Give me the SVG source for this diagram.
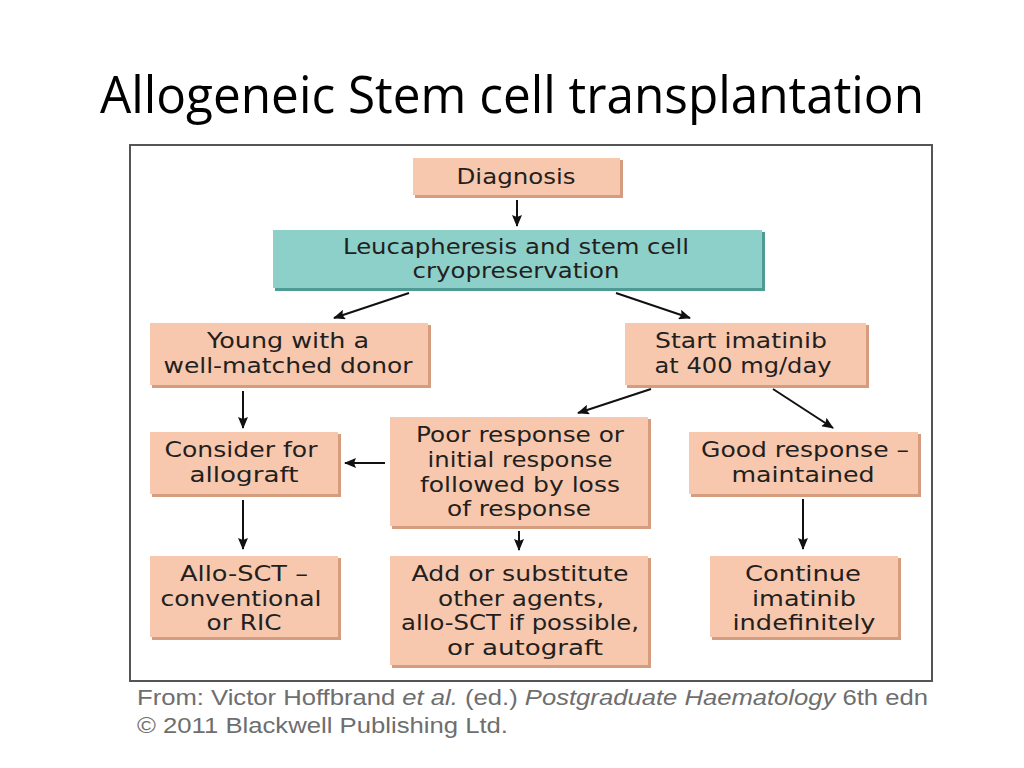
<svg xmlns="http://www.w3.org/2000/svg" width="1024" height="768" viewBox="0 0 1024 768">
<style>
.box{fill:#F7C8AE}
.teal{fill:#8DD0C9}
.sh{fill:#D59C80}
.tsh{fill:#4E9B93}
.t{font-family:"DejaVu Sans","Open Sans",sans-serif;font-size:22px;fill:#231F20;text-anchor:middle}
.c{stroke:#111;stroke-width:2;fill:none;marker-end:url(#ah)}
.foot{font-family:"Liberation Sans",Arial,sans-serif;font-size:22px;fill:#6E6E6E}
</style>
<defs>
<marker id="ah" viewBox="0 0 12 10" refX="11" refY="5" markerWidth="12" markerHeight="10" markerUnits="userSpaceOnUse" orient="auto">
<path d="M0,0 L12,5 L0,10 L2,5 Z" fill="#111"/>
</marker>
</defs>
<rect width="1024" height="768" fill="#fff"/>
<text x="512" y="113" font-family="Open Sans, Liberation Sans, sans-serif" font-size="52" fill="#000" text-anchor="middle" textLength="824" lengthAdjust="spacingAndGlyphs">Allogeneic Stem cell transplantation</text>
<rect x="130" y="145" width="802" height="536" fill="#fff" stroke="#555" stroke-width="2"/>

<g id="diagnosis">
<rect class="sh" x="415" y="160" width="208" height="38"/>
<rect class="box" x="413" y="158" width="207" height="37"/>
<text class="t" x="516" y="184" textLength="119" lengthAdjust="spacingAndGlyphs">Diagnosis</text>
</g>
<g id="leucapheresis">
<rect class="tsh" x="275" y="232" width="490" height="59"/>
<rect class="teal" x="273" y="230" width="489" height="58"/>
<text class="t" x="516" y="254" textLength="346" lengthAdjust="spacingAndGlyphs">Leucapheresis and stem cell</text>
<text class="t" x="516" y="278" textLength="207" lengthAdjust="spacingAndGlyphs">cryopreservation</text>
</g>
<g id="young">
<rect class="sh" x="152" y="325" width="279" height="63"/>
<rect class="box" x="150" y="323" width="278" height="62"/>
<text class="t" x="288" y="348" textLength="162" lengthAdjust="spacingAndGlyphs">Young with a</text>
<text class="t" x="288" y="373" textLength="249" lengthAdjust="spacingAndGlyphs">well-matched donor</text>
</g>
<g id="start">
<rect class="sh" x="627" y="325" width="242" height="63"/>
<rect class="box" x="625" y="323" width="241" height="62"/>
<text class="t" x="741" y="348" textLength="172" lengthAdjust="spacingAndGlyphs">Start imatinib</text>
<text class="t" x="743" y="373" textLength="177" lengthAdjust="spacingAndGlyphs">at 400 mg/day</text>
</g>
<g id="consider">
<rect class="sh" x="152" y="434" width="189" height="63"/>
<rect class="box" x="150" y="432" width="188" height="62"/>
<text class="t" x="241" y="457" textLength="153" lengthAdjust="spacingAndGlyphs">Consider for</text>
<text class="t" x="244" y="482" textLength="109" lengthAdjust="spacingAndGlyphs">allograft</text>
</g>
<g id="poor">
<rect class="sh" x="392" y="419" width="259" height="110"/>
<rect class="box" x="390" y="417" width="258" height="109"/>
<text class="t" x="520" y="442" textLength="208" lengthAdjust="spacingAndGlyphs">Poor response or</text>
<text class="t" x="520" y="467" textLength="185" lengthAdjust="spacingAndGlyphs">initial response</text>
<text class="t" x="520" y="492" textLength="200" lengthAdjust="spacingAndGlyphs">followed by loss</text>
<text class="t" x="519" y="516" textLength="144" lengthAdjust="spacingAndGlyphs">of response</text>
</g>
<g id="good">
<rect class="sh" x="691" y="434" width="230" height="63"/>
<rect class="box" x="689" y="432" width="229" height="62"/>
<text class="t" x="805" y="457" textLength="208" lengthAdjust="spacingAndGlyphs">Good response –</text>
<text class="t" x="803" y="482" textLength="143" lengthAdjust="spacingAndGlyphs">maintained</text>
</g>
<g id="allo">
<rect class="sh" x="152" y="558" width="189" height="82"/>
<rect class="box" x="150" y="556" width="188" height="81"/>
<text class="t" x="244" y="581" textLength="128" lengthAdjust="spacingAndGlyphs">Allo-SCT –</text>
<text class="t" x="241" y="606" textLength="161" lengthAdjust="spacingAndGlyphs">conventional</text>
<text class="t" x="244" y="630" textLength="75" lengthAdjust="spacingAndGlyphs">or RIC</text>
</g>
<g id="add">
<rect class="sh" x="392" y="558" width="259" height="110"/>
<rect class="box" x="390" y="556" width="258" height="109"/>
<text class="t" x="520" y="581" textLength="217" lengthAdjust="spacingAndGlyphs">Add or substitute</text>
<text class="t" x="521" y="606" textLength="166" lengthAdjust="spacingAndGlyphs">other agents,</text>
<text class="t" x="520" y="630" textLength="238" lengthAdjust="spacingAndGlyphs">allo-SCT if possible,</text>
<text class="t" x="525" y="655" textLength="156" lengthAdjust="spacingAndGlyphs">or autograft</text>
</g>
<g id="continue">
<rect class="sh" x="712" y="558" width="189" height="82"/>
<rect class="box" x="710" y="556" width="188" height="81"/>
<text class="t" x="803" y="581" textLength="116" lengthAdjust="spacingAndGlyphs">Continue</text>
<text class="t" x="804" y="606" textLength="104" lengthAdjust="spacingAndGlyphs">imatinib</text>
<text class="t" x="804" y="630" textLength="143" lengthAdjust="spacingAndGlyphs">indefinitely</text>
</g>

<g id="connectors">
<line class="c" x1="517" y1="200" x2="517" y2="226"/>
<line class="c" x1="409" y1="293" x2="334" y2="318"/>
<line class="c" x1="616" y1="293" x2="690" y2="318"/>
<line class="c" x1="243" y1="391" x2="243" y2="428"/>
<line class="c" x1="651" y1="389" x2="578" y2="413"/>
<line class="c" x1="773" y1="389" x2="833" y2="428"/>
<line class="c" x1="385" y1="463" x2="345" y2="463"/>
<line class="c" x1="243" y1="500" x2="243" y2="549"/>
<line class="c" x1="519" y1="531" x2="519" y2="550"/>
<line class="c" x1="803" y1="499" x2="803" y2="549"/>
</g>

<text class="foot" x="137" y="705" textLength="791" lengthAdjust="spacingAndGlyphs">From: Victor Hoffbrand <tspan font-style="italic">et al.</tspan> (ed.) <tspan font-style="italic">Postgraduate Haematology</tspan> 6th edn</text>
<text class="foot" x="137" y="733" textLength="371" lengthAdjust="spacingAndGlyphs">© 2011 Blackwell Publishing Ltd.</text>
</svg>
